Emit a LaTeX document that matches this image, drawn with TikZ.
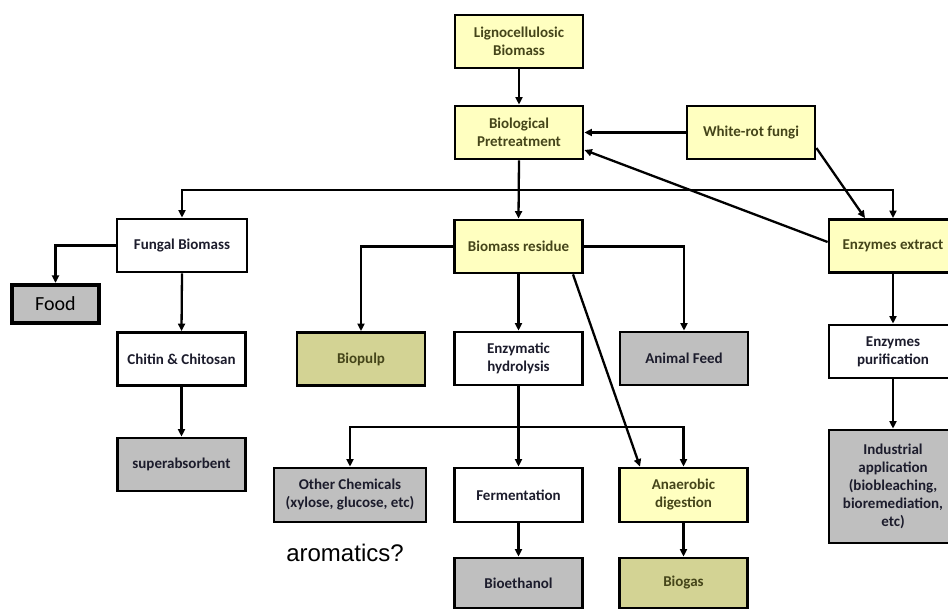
\documentclass[tikz,border=0pt]{standalone}
\usepackage{fontspec}
\setmainfont{Carlito}
\newfontfamily\arialfont{Liberation Sans}
\usetikzlibrary{arrows.meta}
\definecolor{yel}{HTML}{FFFFC0}
\definecolor{oli}{HTML}{D3D394}
\definecolor{gry}{HTML}{BFBFBF}
\definecolor{olitext}{HTML}{45451A}
\definecolor{darktext}{HTML}{1C1C2C}
\begin{document}
\begin{tikzpicture}[x=1pt,y=-1pt,
  box/.style={draw=black, line width=2.8pt, inner sep=1pt, align=center,
    font=\fontsize{15}{18}\selectfont\bfseries, minimum width=128pt,
    minimum height=53pt, text=darktext},
  ybox/.style={box, fill=yel, text=olitext},
  obox/.style={box, fill=oli, text=olitext},
  gbox/.style={box, fill=gry},
  wbox/.style={box, fill=white},
  conn/.style={line width=2.3pt, -{Triangle[length=7.5pt,width=7pt]}}]
\fill[white] (0,0) rectangle (948,610);
\useasboundingbox (0,0) rectangle (948,610);

% top row
\node[ybox] (lig) at (519,41.5) {Lignocellulosic\\Biomass};
\node[ybox] (pre) at (519,132.5) {Biological\\Pretreatment};
\node[ybox] (wrf) at (751,132.5) {White-rot fungi};
\node[ybox] (enz) at (893,246) {Enzymes extract};

% second row
\node[wbox, minimum width=130pt] (fun) at (182,245.5) {Fungal Biomass};
\node[ybox] (res) at (518.5,246.5) {Biomass residue};
\node[gbox, line width=4.2pt, minimum width=87pt, minimum height=38pt,
  font=\fontsize{20}{24}\selectfont, text=black] (food) at (55.5,304) {Food};

% third row
\node[wbox] (chit) at (181.5,359) {Chitin \& Chitosan};
\node[obox] (pulp) at (361,359) {Biopulp};
\node[wbox] (hyd) at (518.5,358.5) {Enzymatic\\hydrolysis};
\node[gbox] (feed) at (684,358.5) {Animal Feed};
\node[wbox] (pur) at (893,351.5) {Enzymes\\purification};

% fourth row
\node[gbox] (sup) at (181.5,464.5) {superabsorbent};
\node[gbox, minimum width=152pt, minimum height=54pt] (oth) at (350,495) {Other Chemicals\\(xylose, glucose, etc)};
\node[wbox, minimum height=54pt] (fer) at (518.5,495) {Fermentation};
\node[ybox, minimum height=54pt] (ana) at (683.5,495) {Anaerobic\\digestion};
\node[gbox, minimum height=113pt] (ind) at (893,486.5) {Industrial\\application\\(biobleaching,\\bioremediation,\\etc)};

% bottom row
\node[gbox, minimum height=50pt] (eth) at (518.5,583) {Bioethanol};
\node[obox, minimum height=50pt] (gas) at (683.5,583) {Biogas};

\node[font=\arialfont\fontsize{24}{28}\selectfont, text=black] (aro) at (345,553) {aromatics?};

% connectors
\draw[conn] (lig.south) -- (pre.north);
\draw[conn] (wrf.west) -- (pre.east);
\draw[conn] ([yshift=4pt]enz.west) -- ([yshift=-17.5pt]pre.east);
\draw[conn] ([yshift=-15.5pt]wrf.east) -- ([xshift=-28pt]enz.north);

\coordinate (b1) at (518.5,190);
\draw[conn] (pre.south) -- (res.north);
\draw[conn] (b1) -| (fun.north);
\draw[conn] (b1) -| (enz.north);

\draw[conn] (fun.west) -| (food.north);
\draw[conn] (fun.south) -- (chit.north);
\draw[conn] (chit.south) -- (sup.north);

\draw[conn] (res.west) -| (pulp.north);
\draw[conn] (res.east) -| (feed.north);
\draw[conn] (res.south) -- (hyd.north);
\draw[conn] ([xshift=54.5pt]res.south) -- ([xshift=-43.5pt]ana.north);

\coordinate (b2) at (518.5,427);
\draw[conn] (hyd.south) -- (fer.north);
\draw[conn] (b2) -| (oth.north);
\draw[conn] (b2) -| (ana.north);

\draw[conn] (fer.south) -- (eth.north);
\draw[conn] (ana.south) -- (gas.north);

\draw[conn] (enz.south) -- (pur.north);
\draw[conn] (pur.south) -- (ind.north);
\end{tikzpicture}
\end{document}
